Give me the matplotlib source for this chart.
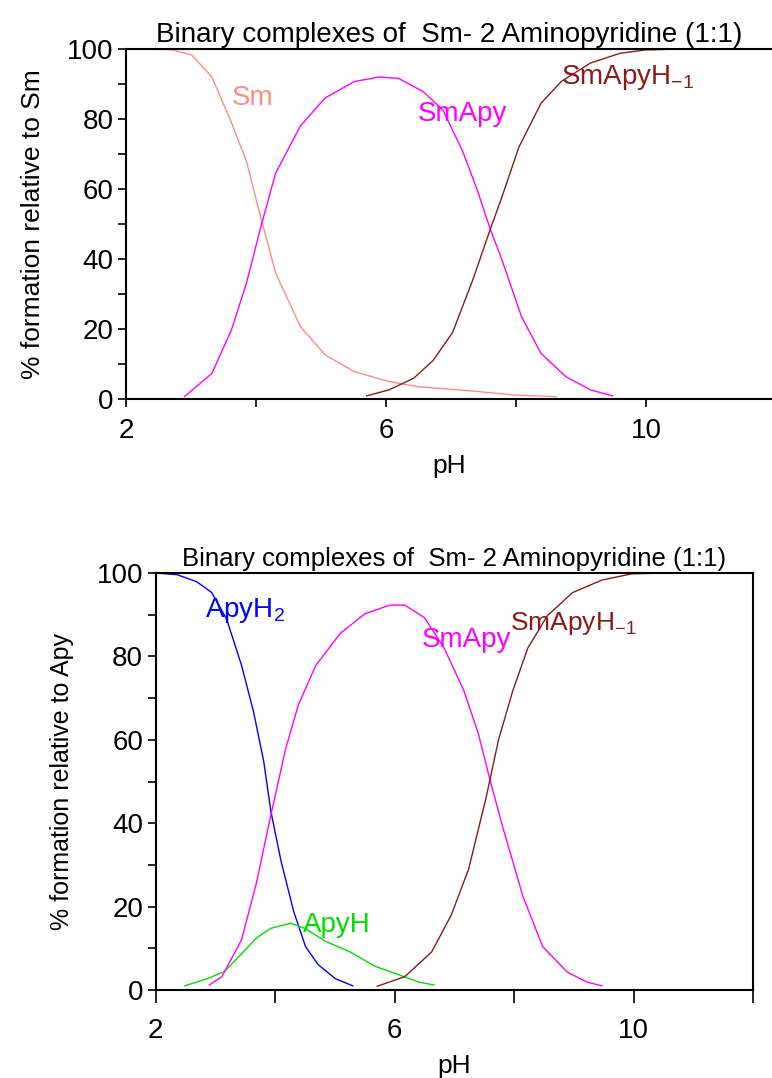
import matplotlib
matplotlib.use('Agg')
import matplotlib.pyplot as plt
from matplotlib.ticker import FixedLocator, MultipleLocator

plt.rcParams['font.family'] = ['Liberation Sans', 'DejaVu Sans']
plt.rcParams['mathtext.default'] = 'regular'

# painel superior: % relativo a Sm
ph_sm = [2.0, 2.7, 3.01, 3.32, 3.62, 3.85, 4.07, 4.3, 4.68, 5.06, 5.51, 6.04, 6.49, 7.25, 8.0, 8.61]
pct_sm = [100, 99.8, 98.3, 92, 79, 68, 52, 36, 20.7, 12.6, 7.8, 5.0, 3.5, 2.4, 1.1, 0.7]

ph_smapy_a = [2.9, 3.32, 3.62, 3.85, 4.07, 4.3, 4.68, 5.06, 5.51, 5.89, 6.19, 6.57, 6.87,
              7.17, 7.4, 7.59, 7.78, 8.08, 8.38, 8.76, 9.14, 9.48]
pct_smapy_a = [0.7, 7.3, 19.7, 33, 49, 64.5, 78, 86, 90.7, 92, 91.6, 87.8, 82.6,
               71, 59.7, 49, 39.7, 23.5, 13, 6.4, 2.6, 0.9]

ph_smapyh_a = [5.7, 6.04, 6.42, 6.72, 7.02, 7.33, 7.59, 7.78, 8.04, 8.38, 8.69, 9.14, 9.6, 9.97, 10.5, 12.0]
pct_smapyh_a = [0.9, 2.6, 5.9, 11, 19, 34, 48, 57.8, 72, 84.5, 90.7, 96, 98.8, 99.7, 100, 100]

# painel inferior: % relativo a Apy
ph_apyh2 = [2.0, 2.36, 2.69, 2.94, 3.19, 3.44, 3.64, 3.81, 3.93, 4.1, 4.31, 4.51, 4.72, 5.01, 5.3]
pct_apyh2 = [100, 99.6, 97.9, 95.3, 88.9, 77.8, 66.7, 54.8, 42.8, 30.9, 18.9, 10.4, 6.1, 2.7, 1.0]

ph_apyh = [2.49, 2.86, 3.15, 3.44, 3.69, 3.93, 4.26, 4.51, 4.84, 5.26, 5.67, 6.08, 6.41, 6.66]
pct_apyh = [1.0, 2.7, 4.4, 8.7, 12.5, 14.8, 16.0, 14.7, 11.7, 9.1, 5.7, 3.6, 1.9, 1.2]

ph_smapy_b = [2.9, 3.11, 3.44, 3.69, 3.93, 4.18, 4.39, 4.68, 5.09, 5.5, 5.92, 6.17, 6.5, 6.83,
              7.16, 7.4, 7.61, 7.82, 8.15, 8.48, 8.89, 9.22, 9.47]
pct_smapy_b = [1.2, 3.2, 12.1, 25.8, 42, 58, 68.4, 77.8, 85.5, 90.2, 92.3, 92.3, 89.3, 82,
               71.8, 61.6, 49.7, 38.6, 22.4, 10.4, 4.3, 1.9, 1.0]

ph_smapyh_b = [5.71, 6.17, 6.62, 6.95, 7.24, 7.53, 7.74, 7.98, 8.23, 8.56, 8.98, 9.47, 9.97, 10.55, 12.0]
pct_smapyh_b = [0.9, 3.2, 9.1, 18, 29, 46, 60, 71.8, 82, 89.8, 95.3, 98.3, 99.8, 100, 100]

ticks_ph = [2, 6, 10]
ticks_ph_menor = [4, 8, 12]

cor_sm = '#FF8C80'
cor_smapy = '#FF00FF'
cor_smapyh = '#8B1A1A'
cor_apyh2 = '#0000FF'
cor_apyh = '#00E000'

titulo = 'Binary complexes of  Sm- 2 Aminopyridine (1:1)'

fig = plt.figure(figsize=(7.72, 10.78), dpi=100)
ax1 = fig.add_axes([126/772, 1 - 399/1078, 1 - 126/772, 350/1078])
ax2 = fig.add_axes([155.6/772, 1 - 990/1078, (753 - 155.6)/772, 417/1078])


def estilo(ax, xmax, ylabel, tam_titulo, tam_label, tick_x, pad_x, pad_ph):
    ax.set_xlim(2, xmax)
    ax.set_ylim(0, 100)
    ax.xaxis.set_major_locator(FixedLocator(ticks_ph))
    ax.xaxis.set_minor_locator(FixedLocator(ticks_ph_menor))
    ax.yaxis.set_major_locator(MultipleLocator(20))
    ax.yaxis.set_minor_locator(MultipleLocator(10))
    ax.tick_params(which='both', direction='out', length=6, width=1.2, labelsize=20)
    ax.tick_params(axis='y', pad=3)
    ax.tick_params(axis='x', which='both', length=tick_x, pad=pad_x)
    for s in ax.spines.values():
        s.set_linewidth(1.5)
    ax.set_xlabel('pH', fontsize=19, labelpad=pad_ph)
    ax.set_ylabel(ylabel, fontsize=tam_label, labelpad=16)
    ax.set_title(titulo, fontsize=tam_titulo, pad=5)


lw = 1.0
ax1.plot(ph_sm, pct_sm, color=cor_sm, lw=lw)
ax1.plot(ph_smapy_a, pct_smapy_a, color=cor_smapy, lw=lw)
ax1.plot(ph_smapyh_a, pct_smapyh_a, color=cor_smapyh, lw=lw)
estilo(ax1, 11.93, '% formation relative to Sm', 20, 19, 6, 8, 7)
ax1.spines['right'].set_visible(False)
ax1.text(3.62, 86, 'Sm', color=cor_sm, fontsize=20, va='center')
ax1.text(6.48, 81.5, 'SmApy', color=cor_smapy, fontsize=20, va='center')
ax1.text(8.69, 92, 'SmApyH$_{-1}$', color=cor_smapyh, fontsize=20, va='center')

ax2.plot(ph_apyh2, pct_apyh2, color=cor_apyh2, lw=lw)
ax2.plot(ph_apyh, pct_apyh, color=cor_apyh, lw=lw)
ax2.plot(ph_smapy_b, pct_smapy_b, color=cor_smapy, lw=lw)
ax2.plot(ph_smapyh_b, pct_smapyh_b, color=cor_smapyh, lw=lw)
estilo(ax2, 12, '% formation relative to Apy', 18.5, 18, 9, 11, 7)
ax2.text(2.82, 91, 'ApyH$_2$', color=cor_apyh2, fontsize=20, va='center')
ax2.text(6.45, 84, 'SmApy', color=cor_smapy, fontsize=20, va='center')
ax2.text(7.94, 88, 'SmApyH$_{-1}$', color=cor_smapyh, fontsize=19, va='center')
ax2.text(4.47, 15.5, 'ApyH', color=cor_apyh, fontsize=20, va='center')

fig.savefig('out.png', dpi=100)
